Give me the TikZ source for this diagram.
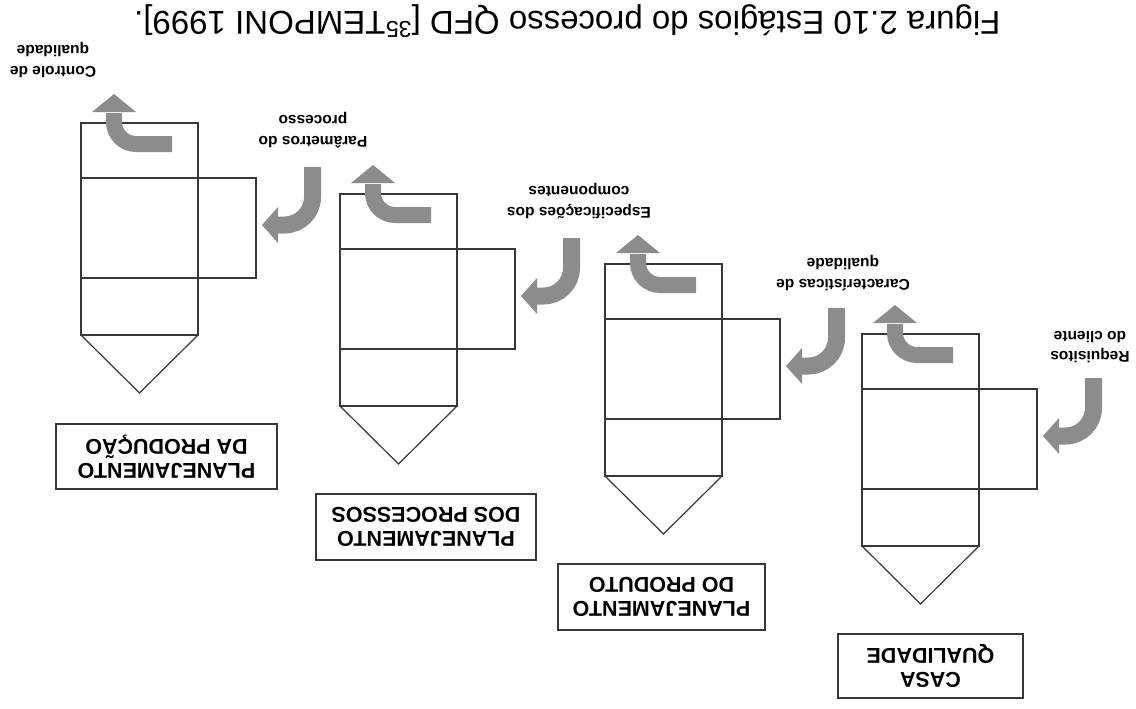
\documentclass[tikz,border=0pt]{standalone}
\usepackage{fontspec}
\setmainfont{Liberation Sans}
\definecolor{arrowgray}{RGB}{140,140,140}
\definecolor{linegray}{RGB}{55,55,55}
\tikzset{
  frame/.style={draw=linegray, line width=1.2pt},
  thickbase/.style={draw=linegray, line width=2.2pt},
  smalllbl/.style={rotate=180, align=center, inner sep=0pt, font=\fontsize{15.5}{20.5}\selectfont\bfseries},
  boxlbl/.style={rotate=180, align=center, draw=linegray, line width=1.2pt, inner sep=0pt,
     font=\fontsize{21.5}{24}\selectfont\bfseries},
}
\newcommand\qfdstage[2]{%
  \begin{scope}[shift={(#1,#2)}]
    \draw[frame] (0,0) rectangle (117,212);
    \draw[frame] (0,55) -- (175,55) -- (175,155) -- (0,155);
    \draw[frame] (0,212) -- (58.5,270) -- (117,212);
    \draw[thickbase] (0,212) -- (117,212);
    % input arrow
    \draw[arrowgray, line width=17pt, rounded corners=28pt] (231.5,44) -- (231.5,102) -- (196,102);
    \fill[arrowgray] (197,84) -- (181,102) -- (197,120) -- cycle;
    % output arrow
    \draw[arrowgray, line width=16pt, rounded corners=22pt] (91,21) -- (33,21) -- (33,-10);
    \fill[arrowgray] (11,-11) -- (33,-29) -- (55,-11) -- cycle;
  \end{scope}}
\begin{document}
\begin{tikzpicture}[x=1pt, y=-1pt]
  \useasboundingbox (0,0) rectangle (1136,709);
  \fill[white] (0,0) rectangle (1136,709);
  % caption
  \node[rotate=180, anchor=base east, inner sep=0pt, font=\fontsize{33}{38}\selectfont] (cap) at (134,12)
    {Figura 2.10 Estágios do processo QFD [\textsuperscript{35}TEMPONI 1999].};
  % stages
  \qfdstage{862}{334}
  \qfdstage{605}{264}
  \qfdstage{340}{194}
  \qfdstage{81}{123}
  % stage labels
  \node[boxlbl, minimum width=185pt, minimum height=64pt] (casa) at (930.5,666) {CASA\\QUALIDADE};
  \node[boxlbl, minimum width=207pt, minimum height=66pt] (pprod) at (661.5,597) {PLANEJAMENTO\\DO PRODUTO};
  \node[boxlbl, minimum width=220pt, minimum height=66pt] (pproc) at (426,527) {PLANEJAMENTO\\DOS PROCESSOS};
  \node[boxlbl, minimum width=221pt, minimum height=65pt] (pprodc) at (166.5,456.5) {PLANEJAMENTO\\DA PRODUÇÃO};
  % flow labels
  \node[smalllbl] (req) at (1090,347) {Requisitos\\do cliente};
  \node[smalllbl] (car) at (843,273) {Características de\\qualidade};
  \node[smalllbl] (esp) at (579,201) {Especificações dos\\componentes};
  \node[smalllbl] (par) at (313,130) {Parâmetros do\\processo};
  \node[smalllbl] (con) at (53,60) {Controle de\\qualidade};
\end{tikzpicture}
\end{document}
